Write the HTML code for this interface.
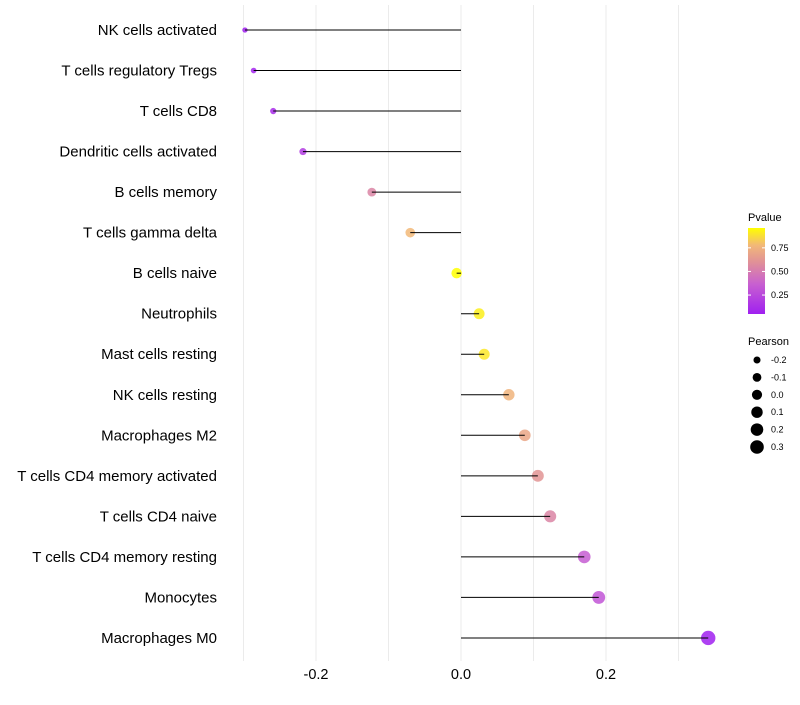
<!DOCTYPE html>
<html><head><meta charset="utf-8"><style>
body{margin:0;background:#fff;}
svg text{font-family:"Liberation Sans",sans-serif;}
</style></head><body>
<svg id="c" width="800" height="700" xmlns="http://www.w3.org/2000/svg">
<defs><linearGradient id="pg" x1="0" y1="1" x2="0" y2="0">
<stop offset="0" stop-color="#A020F0"/><stop offset="0.35" stop-color="#C860D0"/><stop offset="0.6" stop-color="#E09098"/><stop offset="0.8" stop-color="#F2B878"/><stop offset="1" stop-color="#FFFF00"/>
</linearGradient></defs>
<g id="grid"></g>
<g id="marks"></g>
<g id="ylab"></g>
<g id="xlab"></g>
<g>
<text x="748" y="221" font-size="11" fill="#000">Pvalue</text>
<rect x="748" y="228" width="17" height="86" fill="url(#pg)"/>
<g id="cbticks"></g>
</g>
<g id="sizeleg">
<text x="748" y="345" font-size="11" fill="#000">Pearson</text>
</g>
</svg>
<script>
const categories=["NK cells activated","T cells regulatory  Tregs","T cells CD8","Dendritic cells activated","B cells memory","T cells gamma delta","B cells naive","Neutrophils","Mast cells resting","NK cells resting","Macrophages M2","T cells CD4 memory activated","T cells CD4 naive","T cells CD4 memory resting","Monocytes","Macrophages M0"];
const pearson=[-0.298,-0.286,-0.259,-0.218,-0.123,-0.070,-0.006,0.025,0.032,0.066,0.088,0.106,0.123,0.170,0.190,0.341];
const pvalue=[0.05,0.08,0.12,0.2,0.55,0.78,0.97,0.92,0.9,0.76,0.7,0.62,0.55,0.36,0.32,0.04];
const xTicks=[-0.2,0.0,0.2];
const xTickLabels=["-0.2","0.0","0.2"];
const xMinor=[-0.3,-0.1,0.1,0.3];
const cbTicks=[0.25,0.50,0.75];
const cbLabels=["0.25","0.50","0.75"];
const sizeVals=[-0.2,-0.1,0.0,0.1,0.2,0.3];
const sizeLabels=["-0.2","-0.1","0.0","0.1","0.2","0.3"];

const NS="http://www.w3.org/2000/svg";
const X=v=>461+v*725;
const Y=i=>30+i*40.53;
const R=v=>Math.sqrt(Math.max(3,28+v*70));
const CB=p=>313-(p-0.06)/(0.96-0.06)*85;
const stops=[[0,[160,32,240]],[0.35,[200,96,208]],[0.6,[224,144,152]],[0.8,[242,184,120]],[1,[255,255,0]]];
function col(p){
  const t=Math.max(0,Math.min(1,(p-0.06)/0.9));
  for(let k=1;k<stops.length;k++){
    if(t<=stops[k][0]){
      const u=(t-stops[k-1][0])/(stops[k][0]-stops[k-1][0]);
      const a=stops[k-1][1],b=stops[k][1];
      const c=a.map((x,j)=>Math.round(x+(b[j]-x)*u));
      return `rgb(${c[0]},${c[1]},${c[2]})`;
    }
  }
  return 'rgb(255,255,0)';
}
function mk(tag,attrs,parent){const e=document.createElementNS(NS,tag);for(const k in attrs)e.setAttribute(k,attrs[k]);parent.appendChild(e);return e;}
const grid=document.getElementById('grid'),marks=document.getElementById('marks'),ylab=document.getElementById('ylab'),xlab=document.getElementById('xlab');
xTicks.concat(xMinor).forEach(v=>{
  const l=mk('line',{x1:X(v),x2:X(v),y1:5,y2:661,stroke:'#ebebeb','stroke-width':1},grid);
  
  
});
xTicks.forEach((v,i)=>{
  const t=mk('text',{x:X(v),y:679,'font-size':14.5,'text-anchor':'middle',fill:'#000'},xlab);
  t.textContent=xTickLabels[i];
  
  
});
categories.forEach((c,i)=>{
  const y=Y(i),v=pearson[i];
  const t=mk('text',{x:217,y:y+5,'font-size':15,'text-anchor':'end',fill:'#000','xml:space':'preserve'},ylab);
  t.textContent=c;
  
  
  const p=mk('circle',{cx:X(v),cy:y,r:R(v),fill:col(pvalue[i]),'fill-opacity':0.85},marks);
  
  
  const l=mk('line',{x1:X(0),x2:X(v),y1:y,y2:y,stroke:'#000','stroke-width':1},marks);
  
  
});
const cbt=document.getElementById('cbticks');
cbTicks.forEach((p,i)=>{
  const y=CB(p);
  const a=mk('line',{x1:748,x2:751,y1:y,y2:y,stroke:'#fff'},cbt);
  
  
  const b=mk('line',{x1:762,x2:765,y1:y,y2:y,stroke:'#fff'},cbt);
  
  
  const t=mk('text',{x:771,y:y+3,'font-size':9,fill:'#000'},cbt);
  t.textContent=cbLabels[i];
  
  
});
const sl=document.getElementById('sizeleg');
sizeVals.forEach((v,i)=>{
  const y=360+i*17.4;
  const c=mk('circle',{cx:757,cy:y,r:R(v)-0.2,fill:'#000'},sl);
  
  
  const t=mk('text',{x:771,y:y+3,'font-size':9,fill:'#000'},sl);
  t.textContent=sizeLabels[i];
  
  
});
</script>
</body></html>
